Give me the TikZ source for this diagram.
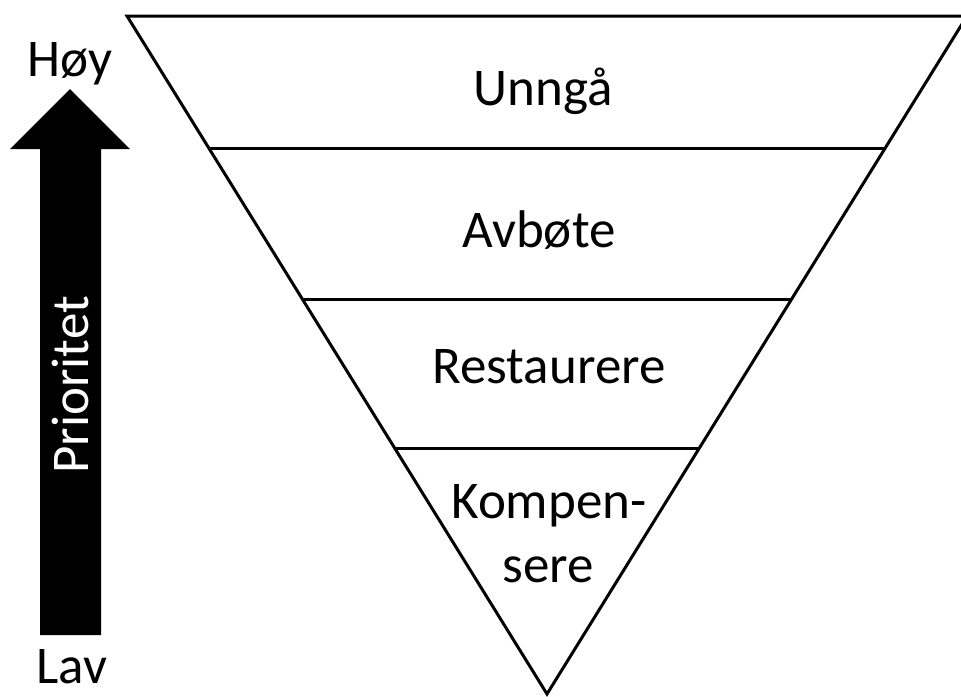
\documentclass[tikz,border=0pt]{standalone}
\usepackage{fontspec}
\setmainfont{Carlito}
\usetikzlibrary{calc}
\begin{document}
\begin{tikzpicture}[x=1pt,y=-1pt,
  edge/.style={line width=3pt,line join=miter},
  lbl/.style={anchor=base,inner sep=0pt,font=\fontsize{53}{64}\selectfont},
]
\useasboundingbox (0,0) rectangle (961,696);
% triangle
\coordinate (TL) at (127,16);
\coordinate (TR) at (967,16);
\coordinate (B) at (547,694);
\draw[edge] (TL) -- (TR) -- (B) -- cycle;
\coordinate (L1) at ($(TL)!0.1947!(B)$);
\coordinate (R1) at ($(TR)!0.1947!(B)$);
\coordinate (L2) at ($(TL)!0.4174!(B)$);
\coordinate (R2) at ($(TR)!0.4174!(B)$);
\coordinate (L3) at ($(TL)!0.6372!(B)$);
\coordinate (R3) at ($(TR)!0.6372!(B)$);
\draw[edge] (L1) -- (R1);
\draw[edge] (L2) -- (R2);
\draw[edge] (L3) -- (R3);
% tier labels
\node[lbl] (unnga) at (543,105) {Unngå};
\node[lbl] (avbote) at (539,247) {Avbøte};
\node[lbl] (restaurere) at (549,383) {Restaurere};
\node[lbl] (kompen) at (549,518) {Kompen-};
\node[lbl] (sere) at (548,582) {sere};
% priority arrow
\fill[black] (40,635) -- (40,149) -- (10,149) -- (70,89) -- (130,149) -- (101,149) -- (101,635) -- cycle;
\node[lbl,rotate=90,text=white,anchor=center] (prio) at (70,385) {Prioritet};
\node[lbl] (hoy) at (70,76) {Høy};
\node[lbl] (lav) at (72,683) {Lav};
\end{tikzpicture}
\end{document}
